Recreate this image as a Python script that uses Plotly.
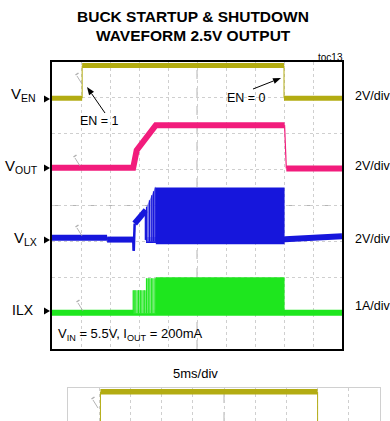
import math
import plotly.graph_objects as go
import numpy as np

W, H = 390, 421

# ---------------- data (time in ms, amplitude in scope divisions) ----------------
ven_t = [0, 5.2, 5.2, 40.0, 40.0, 50]
ven_y = [6.99, 6.99, 7.90, 7.90, 6.99, 6.99]

vout_t = [0, 14.0, 14.6, 17.9, 40.1, 40.4, 50]
vout_y = [5.05, 5.05, 5.54, 6.24, 6.24, 5.03, 5.03]

vlx_t = [0, 9.5, 9.5, 14.0, 14.1, 14.25, 16.2, 16.2, 40.1, 40.2, 50]
vlx_y = [3.10, 3.10, 3.05, 3.05, 2.74, 3.50, 3.87, 3.04, 3.04, 3.06, 3.14]

vlx_soft_t = [16.2, 17.9]
vlx_soft_top = [3.93, 4.54]
vlx_soft_bot = [3.00, 3.00]
vlx_sw_t = [17.9, 40.1]
vlx_sw_top = [4.50, 4.50]
vlx_sw_bot = [2.92, 2.92]
vlx_stripes = [16.3, 16.8, 17.2, 17.5, 17.8]

ilx_t = [0, 50]
ilx_y = [1.01, 1.01]
ilx_soft_t = [14.0, 16.2, 16.2, 17.9]
ilx_soft_top = [1.64, 1.64, 1.97, 1.97]
ilx_soft_bot = [1.00, 1.00, 1.00, 1.00]
ilx_sw_t = [17.9, 40.1]
ilx_sw_top = [2.00, 2.00]
ilx_sw_bot = [0.98, 0.98]
ilx_stripes = [14.0, 14.3, 14.9, 15.3, 15.9, 16.3, 16.7, 17.2, 17.8]

C_EN = "#b3ac12"
C_OUT = "#f21c7c"
C_LX = "#1616dc"
C_LX_SOFT = "rgba(110,110,235,0.85)"
C_IL = "#1ee61e"
C_IL_SOFT = "rgba(110,238,110,0.95)"

FONT = "Liberation Sans, Arial, sans-serif"


def px(x):
    return x / W


def py(y):
    return 1 - y / H


def split_runs(t, y, steep=3.0):
    """Return (thick_x, thick_y, thin_x, thin_y) with steep edges drawn thin."""
    tx, ty, nx, ny = [], [], [], []
    run = None
    for i in range(len(t) - 1):
        dt = t[i + 1] - t[i]
        dy = y[i + 1] - y[i]
        is_thin = dt == 0 or abs(dy / dt) > steep
        if is_thin:
            nx += [t[i], t[i + 1], None]
            ny += [y[i], y[i + 1], None]
            if run is not None:
                tx += run[0] + [None]
                ty += run[1] + [None]
                run = None
        else:
            if run is None:
                run = [[t[i]], [y[i]]]
            run[0].append(t[i + 1])
            run[1].append(y[i + 1])
    if run is not None:
        tx += run[0]
        ty += run[1]
    return tx, ty, nx, ny


fig = go.Figure()


def add_wave(t, y, color, width, thin_w, xa="x", ya="y"):
    tx, ty, nx, ny = split_runs(t, y)
    fig.add_trace(go.Scatter(x=nx, y=ny, mode="lines", xaxis=xa, yaxis=ya,
                             line=dict(color=color, width=thin_w), hoverinfo="skip"))
    fig.add_trace(go.Scatter(x=tx, y=ty, mode="lines", xaxis=xa, yaxis=ya,
                             line=dict(color=color, width=width), hoverinfo="skip"))


def add_band(t, top, bot, color):
    fig.add_trace(go.Scatter(x=list(t) + list(t)[::-1], y=list(top) + list(bot)[::-1],
                             mode="lines", fill="toself", fillcolor=color,
                             line=dict(width=0, color=color), hoverinfo="skip"))


def add_stripes(ts, env_t, env_top, env_bot, color, width=1.2):
    xs, ys = [], []
    for s in ts:
        xs += [s, s, None]
        ys += [float(np.interp(s, env_t, env_bot)), float(np.interp(s, env_t, env_top)), None]
    fig.add_trace(go.Scatter(x=xs, y=ys, mode="lines", line=dict(color=color, width=width),
                             hoverinfo="skip"))


# main screen
add_wave(ven_t, ven_y, C_EN, 5, 1)
add_wave(vout_t, vout_y, C_OUT, 6, 1.2)
add_wave(vlx_t, vlx_y, C_LX, 6, 2.5)
add_band(vlx_soft_t, vlx_soft_top, vlx_soft_bot, C_LX_SOFT)
add_stripes(vlx_stripes, vlx_soft_t, vlx_soft_top, vlx_soft_bot, C_LX)
add_band(vlx_sw_t, vlx_sw_top, vlx_sw_bot, C_LX)
add_wave(ilx_t, ilx_y, C_IL, 6, 1)
add_band(ilx_soft_t, ilx_soft_top, ilx_soft_bot, C_IL_SOFT)
add_stripes(ilx_stripes, ilx_soft_t, ilx_soft_top, ilx_soft_bot, C_IL)
add_band(ilx_sw_t, ilx_sw_top, ilx_sw_bot, C_IL)

# cropped duplicate strip at the bottom
add_wave(ven_t, ven_y, C_EN, 5.5, 1, xa="x2", ya="y2")

grid = dict(showgrid=True, gridcolor="#cfcfcf", griddash="dot", gridwidth=1,
            zeroline=False, showticklabels=False, ticks="")

fig.update_layout(
    width=W, height=H, margin=dict(l=0, r=0, t=0, b=0),
    paper_bgcolor="white", plot_bgcolor="white", showlegend=False,
    font=dict(family=FONT, color="black"),
    xaxis=dict(domain=[px(52), px(342)], range=[0, 50], dtick=5, anchor="y",
               showline=True, mirror=True, linecolor="black", linewidth=2, **grid),
    yaxis=dict(domain=[py(349), py(62)], range=[0, 8], dtick=1, anchor="x",
               showline=True, mirror=True, linecolor="black", linewidth=2, **grid),
    xaxis2=dict(domain=[px(68), px(380)], range=[0, 50], dtick=5, anchor="y2", side="top",
                showline=True, mirror=False, linecolor="#d0d0d0", linewidth=1, **grid),
    yaxis2=dict(domain=[0, py(388)], range=[8 - 33 / 38.6, 8], dtick=1, anchor="x2",
                showline=True, mirror=True, linecolor="#d0d0d0", linewidth=1, **grid),
)

# center graticule lines
for xa, ya in (("x", "y"), ("x2", "y2")):
    fig.add_shape(type="line", xref=xa, yref=ya + " domain", x0=25, x1=25, y0=0, y1=1,
                  line=dict(color="#b4b4b4", width=1, dash="dash"), layer="below")
fig.add_shape(type="line", xref="x domain", yref="y", x0=0, x1=1, y0=4, y1=4,
              line=dict(color="#b4b4b4", width=1, dash="dash"), layer="below")

ann = []


def text(x, y, s, size, xanchor="center", yanchor="middle", color="black", family=FONT):
    ann.append(dict(x=px(x), y=py(y), xref="paper", yref="paper", text=s, showarrow=False,
                    xanchor=xanchor, yanchor=yanchor,
                    font=dict(size=size, color=color, family=family)))


# title
text(193, 16, "<b>BUCK STARTUP &amp; SHUTDOWN</b>", 15.5)
text(193, 36, "<b>WAVEFORM 2.5V OUTPUT</b>", 15.5)
text(345, 57, "toc13", 10, xanchor="right")

# channel labels
text(38, 95, "V<sub>EN</sub>", 15, xanchor="right")
text(40, 166, "V<sub>OUT</sub>", 15, xanchor="right")
text(39, 238, "V<sub>LX</sub>", 15, xanchor="right")
text(36, 310, "ILX", 14, xanchor="right")
for yy in (99, 168, 240, 311):
    fig.add_shape(type="path", xref="paper", yref="paper",
                  path=f"M {px(44)},{py(yy-3.5)} L {px(50)},{py(yy)} L {px(44)},{py(yy+3.5)} Z",
                  fillcolor="black", line=dict(width=0))

text(353, 96, "2V/div", 12.5, xanchor="left")
text(353, 166, "2V/div", 12.5, xanchor="left")
text(353, 239, "2V/div", 12.5, xanchor="left")
text(353, 306, "1A/div", 12.5, xanchor="left")

text(100, 121, "EN = 1", 12.5)
text(246, 98, "EN = 0", 12.5)
text(56, 334, "V<sub>IN</sub> = 5.5V, I<sub>OUT</sub> = 200mA", 13, xanchor="left")
text(195, 373, "5ms/div", 13)


def pline(x0, y0, x1, y1, color, width):
    fig.add_shape(type="line", xref="paper", yref="paper",
                  x0=px(x0), y0=py(y0), x1=px(x1), y1=py(y1),
                  line=dict(color=color, width=width))


# arrows (tail -> head)
for tx_, ty_, hx, hy in ((105, 113, 87, 87), (253, 89, 281, 78)):
    L = math.hypot(hx - tx_, hy - ty_)
    ux, uy = (hx - tx_) / L, (hy - ty_) / L
    bx, by = hx - 8 * ux, hy - 8 * uy
    pline(tx_, ty_, bx, by, "black", 1)
    p1 = (bx - 3 * uy, by + 3 * ux)
    p2 = (bx + 3 * uy, by - 3 * ux)
    fig.add_shape(type="path", xref="paper", yref="paper",
                  path=f"M {px(hx)},{py(hy)} L {px(p1[0])},{py(p1[1])} L {px(p2[0])},{py(p2[1])} Z",
                  fillcolor="black", line=dict(width=0))

# tiny grey channel markers
for mx, my in ((77, 76), (75, 158), (77, 228), (78, 303), (93, 400)):
    pline(mx, my, mx + 5, my + 8, "#a0a0a0", 0.8)
    pline(mx - 1.5, my - 1, mx + 1.5, my - 3, "#b0b0b0", 1.5)

fig.update_layout(annotations=ann)
fig.write_html("out.html", config={"displayModeBar": False},
               post_script="document.body.style.margin='0';document.body.style.overflow='hidden';")
